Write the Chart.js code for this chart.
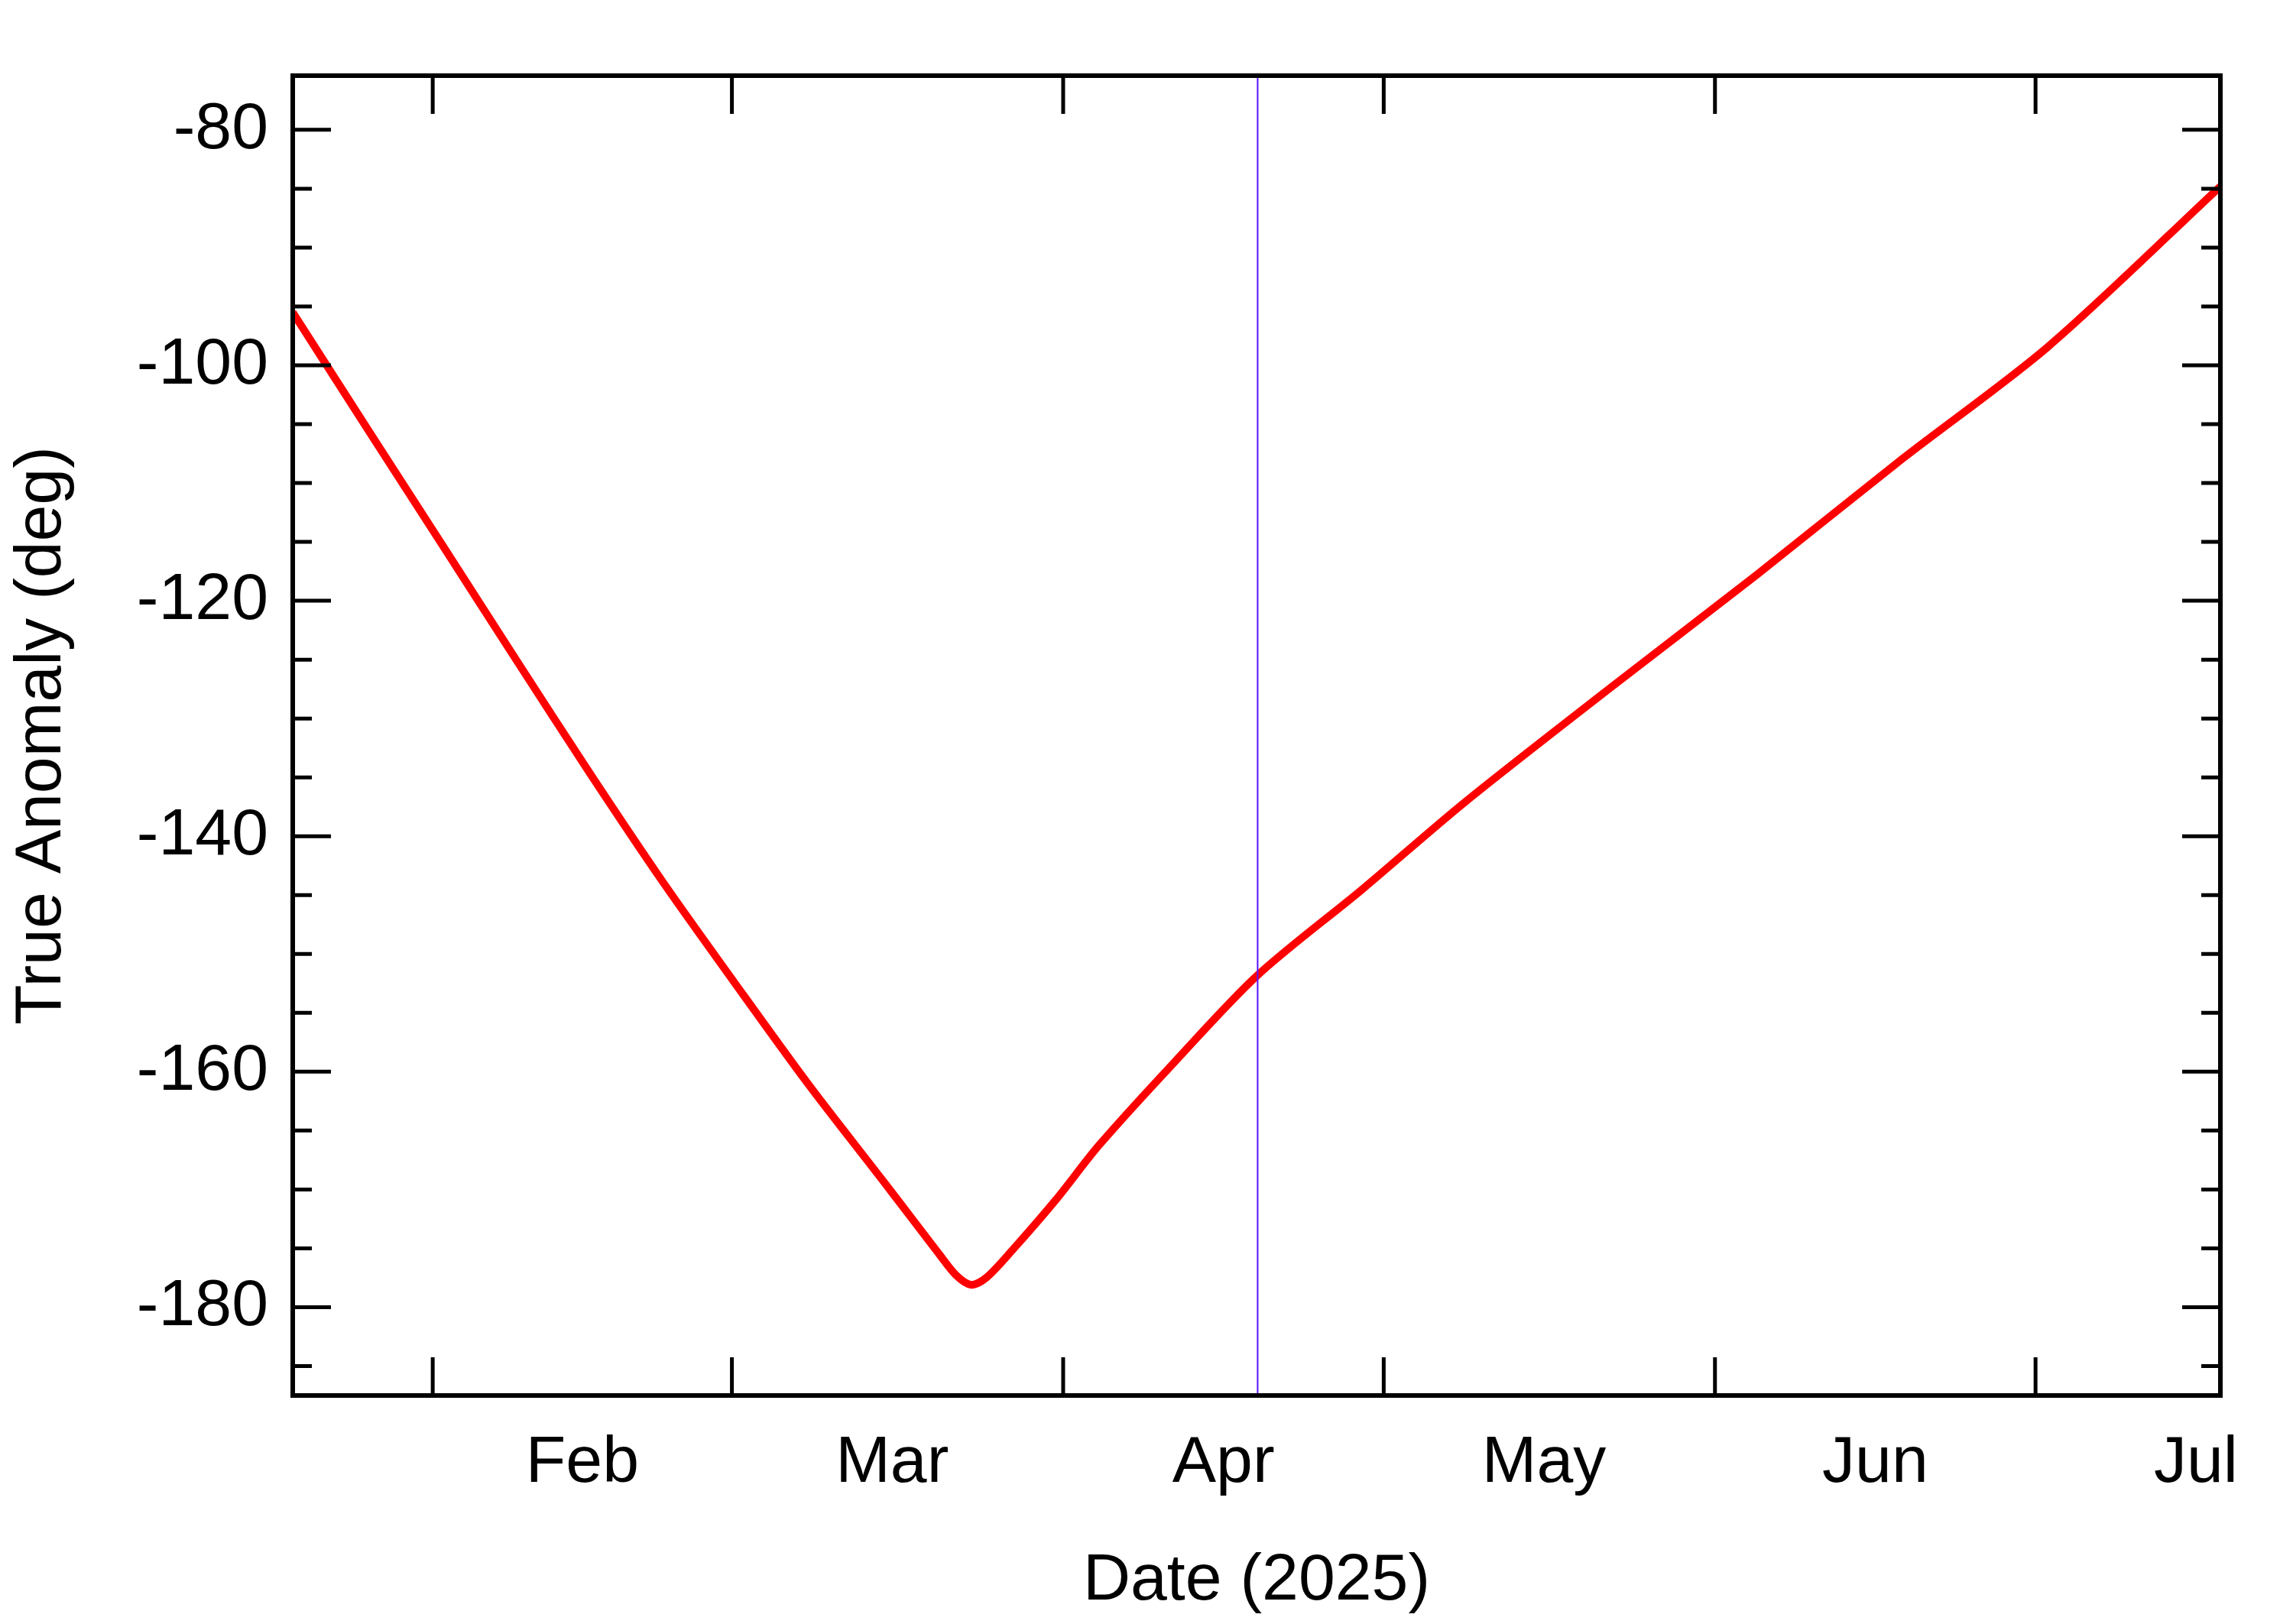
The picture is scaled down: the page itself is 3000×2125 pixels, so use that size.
<!DOCTYPE html>
<html>
<head>
<meta charset="utf-8">
<script src="https://cdn.jsdelivr.net/npm/chart.js@4/dist/chart.umd.min.js"></script>
<style>html,body{margin:0;background:#fff}</style>
</head>
<body>
<canvas id="c" width="3000" height="2125"></canvas>
<script>
// day-of-year (Jan 1 = 0) and true anomaly
const days = [17.9, 25.1, 32, 38.8, 45.6, 52.4, 59.3, 66.1, 73, 75.7, 78.4, 80, 81.4, 82.8, 85.2, 89.3, 93.4, 100.3, 108.2, 118, 127.6, 141.2, 154.9, 168.6, 182.2, 198.3];
const anomaly = [-95.5, -105.7, -115.4, -125.0, -134.5, -143.7, -152.5, -161.0, -169.1, -172.3, -175.5, -177.3, -178.1, -177.5, -175.2, -170.9, -166.2, -159.3, -151.8, -144.5, -137.1, -127.4, -117.8, -107.9, -98.4, -84.8];
const monthStarts = [31, 59, 90, 120, 151, 181];
const monthLabelDays = [45, 74, 105, 135, 166, 196];
const monthNames = ['Feb', 'Mar', 'Apr', 'May', 'Jun', 'Jul'];
const yTicks = [-180, -160, -140, -120, -100, -80];
const currentDay = 108.2;
const xMin = 17.9, xMax = 198.3, yMin = -187.5, yMax = -75.4;

const font = {family: 'Liberation Sans, Arial, sans-serif', size: 86};

// inward tick marks, frame and the "now" line
const decor = {
    id: 'decor',
    afterDatasetsDraw(chart) {
        const {ctx, chartArea: a, scales: {x, y}} = chart;
        ctx.save();
        ctx.beginPath();
        ctx.moveTo(x.getPixelForValue(currentDay), a.top);
        ctx.lineTo(x.getPixelForValue(currentDay), a.bottom);
        ctx.strokeStyle = '#5a10ff';
        ctx.lineWidth = 2;
        ctx.stroke();

        ctx.strokeStyle = '#000';
        ctx.lineWidth = 5;
        ctx.beginPath();
        monthStarts.forEach(d => {
            const px = x.getPixelForValue(d);
            ctx.moveTo(px, a.bottom); ctx.lineTo(px, a.bottom - 50);
            ctx.moveTo(px, a.top); ctx.lineTo(px, a.top + 50);
        });
        for (let v = -185; v <= -80; v += 5) {
            const py = y.getPixelForValue(v);
            const len = v % 20 === 0 ? 50 : 25;
            ctx.moveTo(a.left, py); ctx.lineTo(a.left + len, py);
            ctx.moveTo(a.right, py); ctx.lineTo(a.right - len, py);
        }
        ctx.stroke();
        ctx.lineWidth = 6;
        ctx.strokeRect(a.left, a.top, a.right - a.left, a.bottom - a.top);
        ctx.restore();
    }
};

new Chart(document.getElementById('c'), {
    type: 'line',
    data: {
        datasets: [{
            data: days.map((d, i) => ({x: d, y: anomaly[i]})),
            borderColor: '#ff0000',
            borderWidth: 10,
            pointRadius: 0,
            tension: 0.3
        }]
    },
    options: {
        responsive: false,
        devicePixelRatio: 1,
        animation: false,
        layout: {padding: {top: 99, right: 95}},
        plugins: {legend: {display: false}, tooltip: {enabled: false}},
        scales: {
            x: {
                type: 'linear', min: xMin, max: xMax,
                grid: {display: false}, border: {display: false},
                afterBuildTicks: s => { s.ticks = monthLabelDays.map(v => ({value: v})); },
                afterFit: s => { s.height = 299; },
                ticks: {
                    font: font, color: '#000', padding: 30, maxRotation: 0, autoSkip: false,
                    callback: v => monthNames[monthLabelDays.indexOf(v)]
                },
                title: {display: true, text: 'Date (2025)', font: font, color: '#000', padding: {top: 0}}
            },
            y: {
                type: 'linear', min: yMin, max: yMax,
                grid: {display: false}, border: {display: false},
                afterBuildTicks: s => { s.ticks = yTicks.map(v => ({value: v})); },
                afterFit: s => { s.width = 383; },
                ticks: {font: font, color: '#000', padding: 24},
                title: {display: true, text: 'True Anomaly (deg)', font: font, color: '#000', padding: {bottom: 0}}
            }
        }
    },
    plugins: [decor]
});
</script>
</body>
</html>
